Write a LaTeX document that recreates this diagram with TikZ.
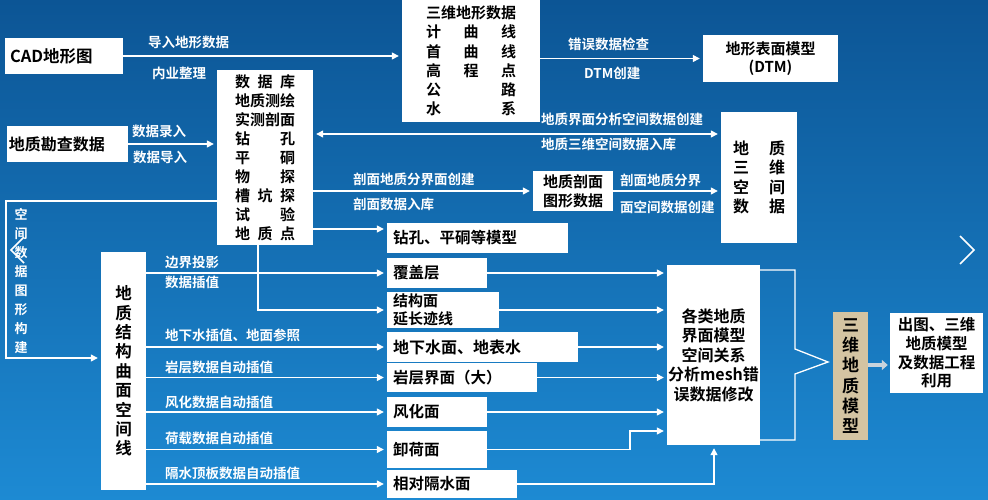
\documentclass[tikz,border=0pt]{standalone}
\usepackage{fontspec}
\setmainfont{Noto Sans CJK SC}[BoldFont={Noto Sans CJK SC Bold}]
\usetikzlibrary{arrows.meta}
\definecolor{bgtop}{HTML}{0C5595}
\definecolor{bgmid}{HTML}{1474BE}
\definecolor{bgbot}{HTML}{1D8AD3}
\definecolor{tanbox}{HTML}{D4C4A2}
\definecolor{greyarrow}{HTML}{C9D3DC}
\newcommand\sprw[2]{\makebox[#1][s]{#2}}
\newcommand\fs[2]{\fontsize{#1}{#2}\selectfont}
\begin{document}
\begin{tikzpicture}[x=1pt,y=-1pt,
  box/.style={draw=none, fill=white, inner sep=0pt, text=black, font=\bfseries\fs{15}{19}},
  lbox/.style={box, align=left, inner xsep=6pt},
  lbl/.style={text=white, font=\bfseries\fs{13.5}{16}, inner sep=0pt, anchor=west},
  conn/.style={white, line width=1.3pt, shorten >=3pt, -{Triangle[length=7pt,width=7pt]}},
  plainline/.style={white, line width=1.3pt},
  conn2/.style={white, line width=1.3pt, {Triangle[length=7pt,width=7pt]}-{Triangle[length=7pt,width=7pt]}, shorten >=3pt, shorten <=3pt}]
\shade[top color=bgtop, middle color=bgmid, bottom color=bgbot] (0,0) rectangle (988,500);
\useasboundingbox (0,0) rectangle (988,500);

% decorations
\draw[white, line width=1.5pt] (960,236) -- (974,250) -- (960,264);
\draw[white, line width=1.5pt] (24,237) -- (11,250) -- (24,263);

% boxes
\node[lbox, text width=108pt, inner xsep=5pt, minimum height=36pt, font=\bfseries\fs{16.5}{19}] (cad) at (64,56) {CAD地形图};
\node[lbox, text width=117pt, inner xsep=2pt, minimum height=36pt, font=\bfseries\fs{16}{19}] (geo) at (67.5,144) {地质勘查数据};
\node[box, minimum width=96pt, minimum height=175pt, align=center] (db) at (265,157.5)
 {\sprw{60pt}{数\hfill 据\hfill 库}\\\sprw{60pt}{地质测绘}\\\sprw{60pt}{实测剖面}\\\sprw{60pt}{钻\hfill 孔}\\\sprw{60pt}{平\hfill 硐}\\\sprw{60pt}{物\hfill 探}\\\sprw{60pt}{槽\hfill 坑\hfill 探}\\\sprw{60pt}{试\hfill 验}\\\sprw{60pt}{地\hfill 质\hfill 点}};
\node[box, minimum width=138pt, minimum height=122pt, align=center, font=\bfseries\fs{15}{19.2}] (topo) at (471,61)
 {三维地形数据\\\sprw{90pt}{计\hfill 曲\hfill 线}\\\sprw{90pt}{首\hfill 曲\hfill 线}\\\sprw{90pt}{高\hfill 程\hfill 点}\\\sprw{90pt}{公\hfill 路}\\\sprw{90pt}{水\hfill 系}};
\node[box, minimum width=135pt, minimum height=47pt, align=center, font=\bfseries\fs{15}{18}] (dtm) at (770.5,58.5) {地形表面模型\\(DTM)};
\node[box, minimum width=76pt, minimum height=131pt, align=center, font=\bfseries\fs{16}{19.5}] (g3d) at (759,177.5)
 {\sprw{52pt}{地\hfill 质}\\\sprw{52pt}{三\hfill 维}\\\sprw{52pt}{空\hfill 间}\\\sprw{52pt}{数\hfill 据}};
\node[box, minimum width=80pt, minimum height=40pt, align=center] (prof) at (573,191) {地质剖面\\图形数据};
\node[lbox, text width=169pt, minimum height=30pt, font=\bfseries\fs{15.5}{19}] (drill) at (477.5,238) {钻孔、平硐等模型};
\node[lbox, text width=88pt, minimum height=30pt, font=\bfseries\fs{15.5}{19}] (cover) at (437,273) {覆盖层};
\node[lbox, text width=100pt, minimum height=36pt, font=\bfseries\fs{15}{17.5}] (struct) at (443,310) {结构面\\延长迹线};
\node[lbox, text width=179pt, minimum height=30pt, font=\bfseries\fs{16}{19}] (gw) at (482.5,347) {地下水面、地表水};
\node[lbox, text width=138pt, minimum height=29pt, font=\bfseries\fs{15.5}{19}] (rock) at (462,377.5) {岩层界面（大）};
\node[lbox, text width=88pt, minimum height=30pt, font=\bfseries\fs{15.5}{19}] (weath) at (437,412) {风化面};
\node[lbox, text width=88pt, minimum height=37pt, font=\bfseries\fs{15.5}{19}] (unload) at (437,449.5) {卸荷面};
\node[lbox, text width=118pt, minimum height=28pt, font=\bfseries\fs{15.5}{19}] (aqui) at (452,484) {相对隔水面};
\node[box, minimum width=93pt, minimum height=180pt, align=center, font=\bfseries\fs{16}{19.5}] (all) at (713.5,355)
 {各类地质\\界面模型\\空间关系\\分析mesh错\\误数据修改};
\node[box, fill=tanbox, minimum width=35pt, minimum height=128pt, align=center, font=\bfseries\fs{17}{20.2}] (m3d) at (850.5,376)
 {三\\维\\地\\质\\模\\型};
\node[box, minimum width=93pt, minimum height=80pt, align=center, font=\bfseries\fs{15.5}{18.7}] (out) at (936.5,353)
 {出图、三维\\地质模型\\及数据工程\\利用};
\node[box, minimum width=45pt, minimum height=238pt, align=center, font=\bfseries\fs{16.5}{19.4}] (gs) at (123.5,371)
 {地\\质\\结\\构\\曲\\面\\空\\间\\线};
\node[text=white, font=\bfseries\fs{13}{18.9}, align=center, inner sep=0pt] (vlab) at (21,281)
 {空\\间\\数\\据\\图\\形\\构\\建};

% helper coordinates
\coordinate (y134) at (0,134);
\coordinate (y229) at (0,229);
\coordinate (y201) at (0,201);
\coordinate (lp1) at (6,201);
\coordinate (lp2) at (6,358);
\coordinate (y358) at (0,358);
\coordinate (x258) at (258,0);
\coordinate (u1) at (630,449.5);
\coordinate (u2) at (630,431);
\coordinate (y431) at (0,431);
\coordinate (x714) at (714,0);
\coordinate (y270) at (0,270);
\coordinate (y440) at (0,440);
\coordinate (b1) at (795,270);
\coordinate (b2) at (795,349);
\coordinate (b3) at (828,362);
\coordinate (b4) at (795,374);
\coordinate (b5) at (795,440);
\coordinate (y365) at (0,365);

% connectors top
\draw[conn] (cad.east) -- (cad.east -| topo.west);
\draw[conn] (geo.east) -- (geo.east -| db.west);
\draw[conn] (dtm.west -| topo.east) -- (dtm.west);
\draw[conn2] (db.east |- y134) -- (g3d.west |- y134);
\draw[conn] (prof.west -| db.east) -- (prof.west);
\draw[conn] (prof.east) -- (prof.east -| g3d.west);
\draw[conn] (db.east |- y229) -- (drill.west |- y229);
\draw[conn] (db.south -| x258) -- (x258 |- struct.west) -- (struct.west);
\draw[conn] (db.west |- y201) -- (lp1) -- (lp2) -- (gs.west |- y358);

% connectors from gs
\draw[conn] (gs.east |- cover.west) -- (cover.west);
\draw[conn] (gs.east |- gw.west) -- (gw.west);
\draw[conn] (gs.east |- rock.west) -- (rock.west);
\draw[conn] (gs.east |- weath.west) -- (weath.west);
\draw[conn] (gs.east |- unload.west) -- (unload.west);
\draw[conn] (gs.east |- aqui.west) -- (aqui.west);

% connectors to all
\draw[conn] (cover.east) -- (cover.east -| all.west);
\draw[conn] (struct.east) -- (struct.east -| all.west);
\draw[conn] (gw.east) -- (gw.east -| all.west);
\draw[conn] (rock.east) -- (rock.east -| all.west);
\draw[conn] (weath.east) -- (weath.east -| all.west);
\draw[conn] (unload.east) -- (u1) -- (u2) -- (all.west |- y431);
\draw[conn] (aqui.east) -- (aqui.east -| x714) -- (x714 |- all.south);

% bracket
\draw[plainline] (all.east |- y270) -- (b1) -- (b2) -- (b3) -- (b4) -- (b5) -- (all.east |- y440);
\draw[greyarrow, line width=4pt, shorten >=2pt, -{Triangle[length=6pt,width=10pt]}] (m3d.east |- y365) -- (out.west |- y365);

% labels
\node[lbl] (l1) at (148,42) {导入地形数据};
\node[lbl] (l2) at (152,73) {内业整理};
\node[lbl] (l3) at (132,131) {数据录入};
\node[lbl] (l4) at (133,157) {数据导入};
\node[lbl] (l5) at (568,44) {错误数据检查};
\node[lbl] (l6) at (584,73) {DTM创建};
\node[lbl] (l7) at (541,119) {地质界面分析空间数据创建};
\node[lbl] (l8) at (541,144) {地质三维空间数据入库};
\node[lbl] (l9) at (353,179) {剖面地质分界面创建};
\node[lbl] (l10) at (353,204) {剖面数据入库};
\node[lbl] (l11) at (620,180) {剖面地质分界};
\node[lbl] (l12) at (620,207) {面空间数据创建};
\node[lbl] (l13) at (165,262) {边界投影};
\node[lbl] (l14) at (165,282) {数据插值};
\node[lbl] (l15) at (165,335) {地下水插值、地面参照};
\node[lbl] (l16) at (165,367) {岩层数据自动插值};
\node[lbl] (l17) at (165,402) {风化数据自动插值};
\node[lbl] (l18) at (165,438) {荷载数据自动插值};
\node[lbl] (l19) at (165,473) {隔水顶板数据自动插值};
\end{tikzpicture}
\end{document}
